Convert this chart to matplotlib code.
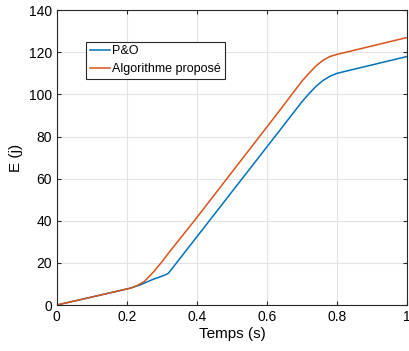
import matplotlib.pyplot as plt

plt.rcParams['font.family'] = ['Liberation Sans', 'DejaVu Sans']

# temps (s) and energie (J)
t_po = [0, 0.1, 0.21, 0.237, 0.275, 0.305, 0.318, 0.33, 0.437, 0.637, 0.7, 0.72, 0.74, 0.76, 0.78, 0.8, 0.9, 1.0]
e_po = [0, 3.8, 8, 9.5, 12.2, 14, 15, 17.5, 40.3, 83, 96.5, 100.3, 103.8, 106.6, 108.6, 110, 114, 118]

t_algo = [0, 0.1, 0.21, 0.23, 0.25, 0.275, 0.3, 0.323, 0.394, 0.637, 0.7, 0.72, 0.74, 0.76, 0.78, 0.8, 0.9, 1.0]
e_algo = [0, 3.8, 8, 9.3, 11.2, 15.5, 20.5, 25.5, 40.3, 92.5, 106.3, 110, 113.5, 116.2, 118, 119, 123, 127]

fig = plt.figure(figsize=(4.09, 3.51), dpi=100)
ax = fig.add_axes([0.139, 0.131, 0.856, 0.84])

ax.plot(t_po, e_po, color='#0072BD', lw=1.1, label='P&O')
ax.plot(t_algo, e_algo, color='#D95319', lw=1.1, label='Algorithme proposé')

ax.set_xlim(0, 1)
ax.set_ylim(0, 140)
ax.set_xticks([0, 0.2, 0.4, 0.6, 0.8, 1])
ax.set_xticklabels(['0', '0.2', '0.4', '0.6', '0.8', '1'])
ax.set_yticks(range(0, 141, 20))
ax.grid(True, color='#e3e3e3', lw=0.8)
ax.set_axisbelow(True)
ax.tick_params(direction='in', top=True, right=True, labelsize=10, length=3, color='#262626')
for s in ax.spines.values():
    s.set_color('#262626')
    s.set_linewidth(0.8)

ax.set_xlabel('Temps (s)', fontsize=11, labelpad=2)
ax.set_ylabel('E (j)', fontsize=11)

leg = ax.legend(loc='upper left', bbox_to_anchor=(0.083, 0.893), fontsize=9,
                handlelength=1.6, handletextpad=0.2, borderpad=0.3, labelspacing=0.45,
                fancybox=False, framealpha=1, borderaxespad=0)
leg.get_frame().set_edgecolor('#262626')
leg.get_frame().set_linewidth(0.8)

fig.savefig('out.png', dpi=100)
